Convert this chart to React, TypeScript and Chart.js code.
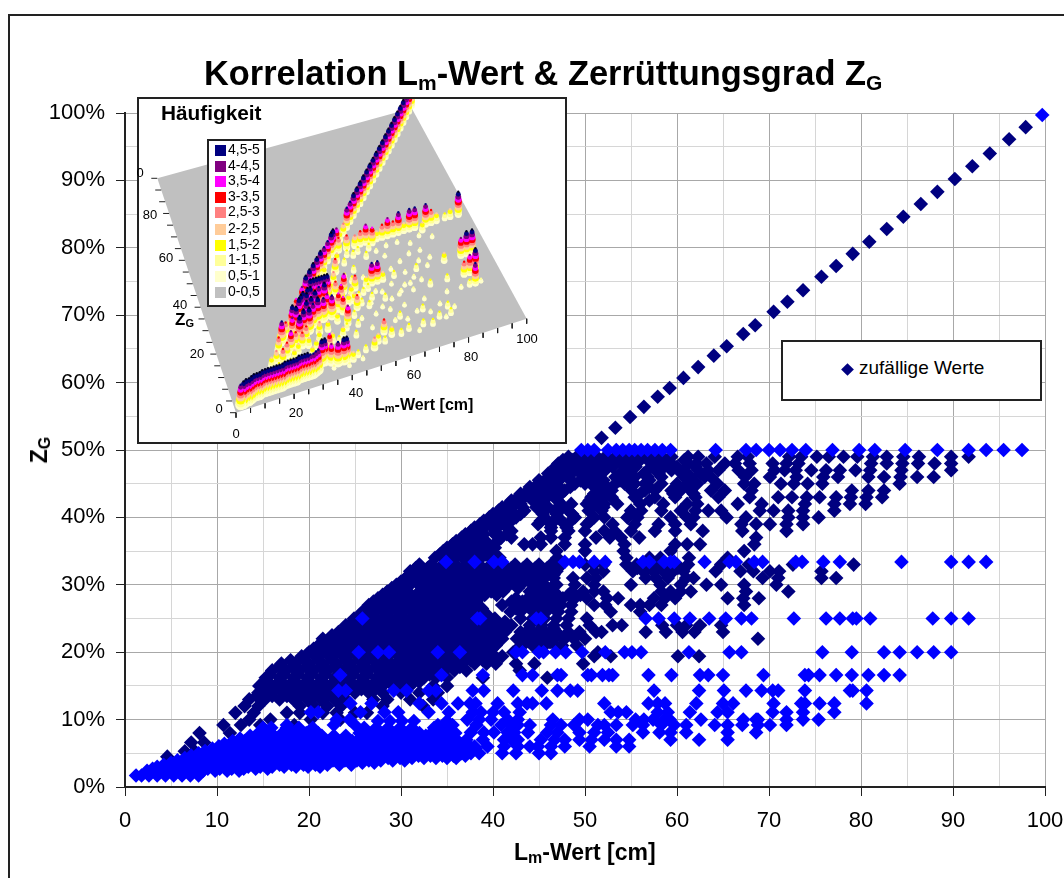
import React, { useEffect, useRef } from "react";
import { Chart, registerables } from "chart.js";

Chart.register(...registerables);

const FONT = '"Liberation Sans", Arial, sans-serif';
const NAVY = "#000080";
const BLUE = "#0000FF";

// Main chart: each row is [Z_G %, L_m values...]
const diagonalValues = [51.8, 53.3, 54.9, 56.4, 57.9, 59.2, 60.7, 62.3, 64, 65.4, 67.2, 68.5, 70.5, 72, 73.7, 75.7, 77.3, 79.1, 80.9, 82.8, 84.6, 86.5, 88.3, 90.2, 92.1, 94, 96.1, 97.9];
const diagonalBlue = [99.7];

const navyUpperRows = [
  [49, 48.2, 49.1, 49.9, 50.6, 51.3, 52.2, 53.3, 54, 54.7, 55.4, 56.5, 57.2, 58.3, 59.4, 61.2, 62.3, 64.1, 66.6, 67.7, 72.2, 73.5, 75.2, 76.5, 78.1, 79.6, 81.3, 82.8, 84.6, 86.3, 89.8, 91.7],
  [48, 47.1, 48.2, 49.3, 50.2, 51.1, 52.2, 53.3, 54, 54.7, 55.4, 57.2, 57.9, 59.4, 61.2, 62.1, 63.2, 65.2, 66.3, 67.9, 70.4, 71.9, 73.2, 81.1, 82.8, 84.5, 86.2, 88, 89.8],
  [47, 46.7, 47.8, 48.9, 50, 51.1, 52.2, 54.3, 55, 56.8, 57.9, 59.4, 60.8, 62.3, 63.4, 64.5, 66.7, 68.1, 70.6, 71.7, 72.9, 74.6, 76.2, 77.7, 79.4, 81, 84.4, 89.8],
  [46, 46, 47.1, 48.2, 50.4, 51.3, 53.3, 54.3, 55.4, 56.8, 58.3, 60.8, 61.5, 63, 63.7, 67.4, 70.1, 73, 75.9, 77.5, 80.8, 82.5, 84.3, 86.1, 87.9],
  [45, 44.9, 45.6, 46.7, 48.9, 50, 51.5, 53.3, 54.3, 55.4, 56.5, 58.3, 60, 61.1, 62.2, 64.4, 67.3, 68.4, 71.3, 72.7, 74.2, 75.8, 84.2],
  [44, 43.8, 44.3, 45.6, 46.7, 47.8, 51.5, 52.9, 55.1, 56.5, 57.6, 59.4, 60.4, 61.5, 63.7, 65.2, 68.1, 79, 80.8, 82.5],
  [43, 42.7, 43.4, 44.6, 45.9, 47, 50.7, 51.8, 52.9, 55.4, 57.6, 59.8, 62, 64.5, 67.9, 71, 72.5, 74.1, 75.5, 77.3, 78.9, 80.6, 82.3],
  [42, 41.7, 42.2, 43, 44.9, 47.4, 48.5, 50.2, 51, 52.1, 53.5, 56, 58.5, 61.1, 62.2, 66.6, 69.2, 73.9, 77.1, 78.8, 80.5],
  [41, 40.6, 41.3, 42, 43.4, 45.2, 46.7, 48.2, 50.4, 51.8, 55, 56.1, 58.3, 60.4, 62, 63.4, 64.8, 69, 70.5, 72.1, 73.7, 77.1],
  [40, 39.6, 40.2, 41.3, 42.5, 45.6, 47.1, 48.9, 51, 52.1, 54.6, 55.7, 59.3, 61.1, 61.8, 65.4, 67.5, 72.1, 73.7, 75.4],
  [39, 38.6, 39.3, 40.8, 44.9, 46.3, 47.8, 50.2, 53, 55.4, 58, 59.8, 61.5, 67, 68.6, 70.1, 71.9, 73.7],
  [38, 37.6, 38.7, 40.2, 42, 46.3, 48.2, 50, 52.1, 53.2, 55, 57.6, 59.8, 62.8, 67.1, 71.9],
  [37, 36.6, 37.3, 38.4, 40.9, 42, 45.2, 46.3, 47.8, 51.2, 52.7, 53.9, 55.9, 68.6],
  [36, 35.6, 36.5, 37.4, 38.4, 39.5, 43.4, 44.3, 45.2, 47.8, 50, 54.3, 59.8, 61.1, 62.5, 68.4],
  [35, 34.6, 35.6, 36.6, 37.6, 38.6, 39.7, 46.9, 50, 54.2, 59.3, 67.3],
  [34, 33.7, 34.7, 35.7, 36.7, 37.7, 38.7, 39.7, 40.7, 47, 54.5, 57, 58.2, 61.3, 65.5],
];

const navyUpperFillRows = [
  [48.5, 47.6, 48.6, 49.6, 50.5, 51.6, 52.7, 53.6, 54.4, 55, 56, 57.5, 58.8, 60.8],
  [47.5, 46.8, 47.9, 49, 50, 51, 52, 53, 54.6, 55.5, 57.3, 58.6, 60, 62],
  [46.5, 46, 47, 48, 49.5, 50.6, 51.7, 53.8, 55, 56.4, 58, 60.5, 62.6],
  [45.5, 45, 46, 47.2, 48.4, 49.5, 50.6, 52, 53.8, 55, 57, 61.3],
  [44.5, 44, 45, 46, 47.2, 48.4, 51, 52.4, 55, 57, 60.2, 61.3],
  [43.5, 43, 44, 45.1, 46.2, 47.4, 51, 52.4, 56, 59.6, 61.8],
  [42.5, 42, 43, 44.3, 45.5, 47, 50.5, 51.5, 57],
  [41.5, 41, 42, 43.2, 44.7, 46, 47.6, 50.7, 52],
  [40.5, 40, 41, 42, 43, 45.4, 46.9, 48.6],
  [39.5, 39, 40, 41, 42, 45.2, 46.6, 48.5, 50.6],
  [38.5, 38, 39, 40, 41.5, 46.3, 48],
  [37.5, 37, 38, 39, 40.2, 41.5],
  [36.5, 36, 37, 38, 39.2, 40.5],
  [35.5, 35, 36, 37, 38, 39, 40.2],
  [34.5, 34.2, 35.2, 36.2, 37.2, 38.2, 39.2, 40.2],
];

const navyMiddleRows = [
  [33, 32, 33.3, 34.6, 35.9, 37.2, 38.5, 39.8, 41.1, 42.4, 43.7, 45, 46.3, 47.4, 50, 51, 52, 54.5, 55.6, 56.7, 57.8, 58.9, 60, 61.2, 64.8, 67.8, 72.6, 79.2],
  [32, 31, 32.6, 33.9, 35.2, 36.5, 37.8, 39.1, 40.4, 41.7, 43, 44.3, 45.6, 46.9, 51, 52, 55.2, 56.3, 57.4, 58.5, 59.6, 60.7, 64.2, 66.9, 68.3, 70.1, 71.1, 75.7],
  [31, 30.5, 32, 33.3, 34.6, 35.9, 37.2, 38.5, 39.8, 41.1, 42.4, 45.6, 46.6, 48.7, 50.2, 51.2, 56.6, 57.7, 59, 61, 61.8, 69.3, 71, 75.7, 77.3],
  [30, 29.5, 31, 32.6, 33.9, 35.2, 36.5, 37.8, 39.1, 40.4, 41.7, 43, 44.3, 45.6, 46.9, 48.9, 51, 55, 58.2, 60.4, 63.2, 64.8, 67.3, 70.8],
  [29, 28.5, 30, 32, 33.3, 34.6, 35.9, 37.2, 38.5, 39.8, 41.1, 44, 45.3, 46.6, 48.6, 49.8, 51, 52, 58.3, 59.3, 60.4, 61.5, 67.5, 72.1],
  [28, 27.5, 29, 30.5, 31.9, 33.2, 34.5, 35.8, 37.1, 38.4, 42.5, 43.8, 45.1, 46.4, 47.6, 48.9, 50.2, 52.4, 53.6, 57.5, 58.7, 59.8, 65.5, 68.9, 67.2],
  [27, 26.5, 28, 29.5, 31, 32.4, 33.7, 35, 36.3, 37.6, 41, 42.3, 43.6, 44.9, 46.2, 47.4, 48.5, 51, 52.2, 55, 56, 57, 58.3, 67.3],
  [26, 25.8, 27.2, 28.7, 30.2, 31.7, 33, 34.3, 35.6, 36.9, 38.2, 41.9, 43, 44.5, 45.8, 47.1, 48.5, 52.8, 56],
  [25, 24.9, 26.5, 28, 29.5, 31, 32.4, 33.7, 35, 36.3, 37.6, 38.9, 40.2, 43, 44.3, 45.6, 46.9, 48.2, 50.2],
  [24, 24, 25.5, 27, 28.5, 30, 31.5, 32.9, 34.2, 35.5, 36.8, 38.1, 39.4, 40.7, 42, 44, 45.3, 46.6, 48, 50.5, 53, 54, 58.4, 60, 61, 62.5, 64.8],
  [23, 23.2, 24.8, 26.3, 27.8, 29.3, 30.8, 32.2, 33.5, 34.8, 36.1, 37.4, 38.7, 40, 41.3, 43, 44.3, 45.6, 46.9, 48.2, 49.4, 51.2, 51.8, 56.6, 58.8, 60.6, 61.9, 65],
  [22, 21.5, 23, 24.5, 26, 27.5, 29, 30.5, 31.9, 33.2, 34.5, 35.8, 37.1, 38.4, 39.7, 41, 42.6, 43.9, 45.2, 46.5, 47.8, 48.8, 50, 68.8],
  [21, 21, 22.5, 24, 25.5, 27, 28.5, 30, 31.3, 32.6, 33.9, 35.2, 36.5, 37.8, 39.1, 40.3, 43, 44.3, 45.6, 46.8, 47.5, 49.1],
  [20, 20, 21.5, 23, 24.5, 26, 27.5, 29, 30.5, 31.9, 33.2, 34.5, 35.8, 37.1, 38.4, 39.5, 42.2, 51.4],
  [19.4, 19.2, 20.7, 22.2, 23.7, 25.2, 26.7, 28.2, 29.7, 31.1, 32.4, 33.7, 35, 36.3, 37.6, 38.9, 40.2, 41, 51, 52.8, 60.1, 62.4],
  [18.3, 17, 18.5, 20, 21.5, 23, 24.5, 26, 27.5, 28.9, 30.2, 31.5, 32.8, 34.1, 35.4, 36.7, 38, 39.3, 40.3, 42.5, 44.5, 49.8],
  [17.3, 16, 17.5, 19, 20.5, 22, 23.5, 25, 26.5, 28, 29.3, 30.6, 31.9, 33.2, 34.5, 35.8, 37.1, 42.9],
  [16.2, 15.3, 16.8, 18.3, 19.8, 21.3, 22.8, 24.3, 25.8, 27.3, 28.6, 29.9, 31.2, 32.5, 33.8, 35, 38.9, 45.9],
  [15, 14.6, 16, 17.5, 19, 20.5, 22, 23.5, 25, 26.5, 28, 29.4, 31, 33.5, 35],
  [14, 14.5, 16, 17.5, 19, 20.5, 22, 23.6, 25, 26.5, 28, 30, 32, 34],
  [13, 13.5, 15.2, 16.8, 18.3, 19.8, 21.3, 22.8, 24, 27, 28.5, 31, 33.5],
  [12, 13, 14.5, 19, 20.5, 22, 23.5, 28, 32.4],
  [11, 12, 14, 17.6, 19, 21.5, 23, 25, 26.3],
  [10, 13.5, 15.8, 20.2, 23.4],
  [9.2, 10.7, 12.6, 14.7, 18.4],
  [8, 8.1, 11.4],
  [6.6, 7.2, 8.6],
  [5.3, 6.5, 7.6],
  [4.5, 4.6],
];

const navyMiddleFillRows = [
  [32.5, 31.6, 32.9, 34.2, 35.5, 36.8, 38.1, 39.4, 40.7, 42, 43.3, 44.6, 45.9, 47.1, 55.7, 56.8, 57.9, 59, 60.1],
  [31.5, 30.9, 32.3, 33.6, 34.9, 36.2, 37.5, 38.8, 40.1, 41.4, 42.7, 44, 45.3, 46.6],
  [30.5, 30, 31.6, 33, 34.3, 35.6, 36.9, 38.2, 39.5, 40.8, 42.1, 43.4, 44.7],
  [29.5, 29, 30.5, 32.3, 33.6, 34.9, 36.2, 37.5, 38.8, 40.1, 41.4, 42.7, 45, 46.3],
  [28.5, 28, 29.6, 31.1, 32.6, 33.9, 35.2, 36.5, 37.8, 39.1, 40.4, 44.4, 45.7, 47, 48.2, 49.5],
  [27.5, 27, 28.6, 30.2, 31.7, 33, 34.3, 35.6, 36.9, 38.2, 42, 43.2, 44.5, 45.8, 47],
  [26.5, 26.3, 27.8, 29.3, 30.8, 32.3, 33.6, 34.9, 36.2, 37.5, 38.8, 42.5, 44, 45.3, 46.6],
  [25.5, 25.5, 27, 28.5, 30, 31.5, 32.9, 34.2, 35.5, 36.8, 38.1, 39.4],
  [24.5, 24.7, 26.2, 27.7, 29.2, 30.7, 32.2, 33.5, 34.8, 36.1, 37.4, 38.7, 40, 41.3],
  [23.5, 24, 25.5, 27, 28.5, 30, 31.5, 32.9, 34.2, 35.5, 36.8, 38.1, 39.4, 40.7, 44, 45.3, 46.6],
  [22.5, 22.5, 24, 25.5, 27, 28.5, 30, 31.3, 32.6, 33.9, 35.2, 36.5, 37.8, 39.1, 40.4, 43.3, 44.6, 45.9, 47.2],
  [21.5, 21.8, 23.3, 24.8, 26.3, 27.8, 29.3, 30.8, 32.2, 33.5, 34.8, 36.1, 37.4, 38.7, 40, 43.6, 45, 46.2],
  [20.5, 20.5, 22, 23.5, 25, 26.5, 28, 29.5, 30.9, 32.2, 33.5, 34.8, 36.1, 37.4, 38.7, 39.9],
  [19.7, 19.8, 21.3, 22.8, 24.3, 25.8, 27.3, 28.8, 30.2, 31.6, 32.9, 34.2, 35.5, 36.8, 38.1, 39.5],
  [18.8, 18, 19.5, 21, 22.5, 24, 25.5, 27, 28.5, 29.8, 31.1, 32.4, 33.7, 35, 36.3, 37.6, 38.9, 40],
  [17.8, 16.7, 18.2, 19.7, 21.2, 22.7, 24.2, 25.7, 27.2, 28.6, 29.9, 31.2, 32.5, 33.8, 35.1, 36.4],
  [16.7, 15.8, 17.3, 18.8, 20.3, 21.8, 23.3, 24.8, 26.3, 27.8, 29.2, 30.5, 31.8, 33.1, 34.4],
  [15.6, 15.2, 16.7, 18.2, 19.7, 21.2, 22.7, 24.2, 25.7, 27.2, 28.7, 30.2, 32],
  [14.5, 15.3, 16.8, 18.3, 19.8, 21.3, 22.8, 24.3, 25.7, 27.2],
  [13.5, 14.3, 16, 17.6, 19, 20.5, 22, 23.4],
];

const blueSparseRows = [
  [50, 49.6, 50.3, 51, 52.5, 53.4, 54.1, 54.8, 55.4, 56.1, 56.8, 57.6, 58.4, 59.3, 64.2, 67.5, 68.6, 70, 71.2, 72.5, 74, 76.9, 79.8, 81.5, 84.8, 88.3, 91.7, 93.6, 95.5, 97.5],
  [33.4, 34.9, 38, 40.1, 41, 47.8, 48.7, 49.4, 51, 52.2, 56.3, 57, 58.6, 59.3, 59.7, 63, 65.7, 66.4, 68.4, 69.3, 72.9, 73.6, 75.9, 77.7, 84.4, 89.8, 91.7, 93.6],
  [25, 25.8, 38.3, 38.6, 44.7, 45.2, 56.6, 58, 59.7, 61.4, 63.5, 65.3, 67, 68.1, 72.7, 76.2, 77.7, 79.1, 79.5, 81, 87.8, 89.8, 91.7],
  [20, 25.4, 27.5, 28.7, 34, 36.4, 42.5, 43.2, 45, 45.5, 46.8, 47.9, 49.7, 52.2, 54.3, 55.1, 56.1, 61.3, 65.7, 67, 75.8, 79, 82.5, 84.2, 86.1, 87.9, 89.8],
  [16.6, 23.4, 34.4, 38.9, 43.2, 44.3, 47, 47.4, 50.3, 50.7, 51.9, 52.6, 53, 56.9, 59.4, 62.5, 63.4, 65, 69.4, 73.9, 74.3, 75.5, 77.3, 79, 80.8, 82.5, 84.2],
  [14.3, 23.2, 24, 29.2, 30.6, 33, 33.8, 37.8, 39, 42.2, 45.3, 47, 48.4, 49.2, 57.5, 62.4, 65.1, 67.5, 69.2, 70.4, 71, 73.9, 78.8, 79.1, 80.6],
  [12.4, 24.5, 26.8, 32, 34.4, 36.2, 37.5, 38.1, 40.5, 42.7, 43.7, 44.3, 45.8, 52.1, 56.9, 57.9, 58.7, 62.1, 65, 66.1, 70.5, 73.5, 73.9, 75.5, 77.1, 80.6],
  [11.1, 20.2, 21, 25.6, 28.2, 29.7, 33, 35.2, 37.8, 38.7, 40, 41.2, 42.9, 52.8, 53.6, 54.5, 57.9, 59, 61.4, 64.4, 65.5, 70.4, 71.9, 73.7, 77.1],
  [10, 23, 24.4, 37.2, 38.5, 39.8, 41.6, 42.7, 46.5, 49.4, 50.3, 55.5, 56.4, 57.4, 58.6, 59.2, 62.6, 67.2, 68.6, 68.8, 71.9, 73.7, 75.4],
  [9.2, 17.6, 22.7, 25, 34, 35.6, 38.2, 40.9, 42, 42.7, 44, 46.3, 47.4, 48.8, 51.4, 52.1, 53.4, 55.2, 56.3, 58.3, 59.7, 61, 64.1, 65.5, 67.1, 68.8, 70.1, 71.9],
  [8.1, 37.6, 39, 40.1, 41.6, 42.3, 43.8, 45.9, 47, 49.4, 51, 52.5, 56.3, 58.1, 59.3, 61, 65.5, 68.6],
  [7, 37.1, 38.9, 41.2, 42, 42.7, 45.2, 46.7, 47.8, 49.4, 50.7, 52.1, 53.4, 54.8, 59.3, 62.4, 65.5],
  [6, 38, 39.4, 41.2, 42.7, 44, 44.9, 46.3, 47.8, 50.5, 53.4, 54.8],
  [5, 37.6, 41, 42.5, 45, 46.3],
];

const blueDenseRows = [
  [1.7, 1.2, 1.8, 2.6, 3.5, 4.4, 5.3, 6.2, 7.1, 8],
  [2.4, 2.4, 3.5, 4.6, 5.9, 7.2, 8.5, 9.8, 11.1, 12.4],
  [2.7, 3, 4.1, 5.2, 6.4, 7.7, 9, 10.3, 11.6, 12.9, 14.2, 15.5],
  [3, 3.5, 4.6, 5.6, 6.9, 8.2, 9.5, 10.8, 12.1, 13.4, 14.7, 16, 17.3, 18.6, 19.9, 21.2],
  [3.3, 4.2, 5.3, 6.4, 7.7, 9, 10.3, 11.6, 12.9, 14.2, 15.5, 16.8, 18.1, 19.4, 20.7, 22, 23.3, 24.6],
  [3.6, 5, 6.3, 7.6, 8.9, 10.2, 11.5, 12.8, 14.1, 15.4, 16.7, 18, 19.3, 20.6, 21.9, 23.2, 24.5, 25.8, 27.1],
  [3.95, 5.7, 7, 8.3, 9.6, 10.9, 12.2, 13.5, 14.8, 16.1, 17.4, 18.7, 20, 21.3, 22.6, 23.9, 25.2, 26.5, 27.8, 29.1, 30.4],
  [4.3, 6.5, 7.8, 9.1, 10.4, 11.7, 13, 14.3, 15.6, 16.9, 18.2, 19.5, 20.8, 22.1, 23.4, 24.7, 26, 27.3, 28.6, 29.9, 31.2, 32.5, 33.8, 35, 36],
  [4.65, 7.2, 8.5, 9.8, 11.1, 12.4, 13.7, 15, 16.3, 17.6, 18.9, 20.2, 21.5, 22.8, 24.1, 25.4, 26.7, 28, 29.3, 30.6, 31.9, 33.2, 34.5, 35.7, 37],
  [5, 8, 9.3, 10.6, 11.9, 13.2, 14.5, 15.8, 17.1, 18.4, 19.7, 21, 22.3, 23.6, 24.9, 26.2, 27.5, 28.8, 30.1, 31.4, 32.7, 34, 35.3, 36.6, 38.5],
  [5.35, 8.7, 10, 11.3, 12.6, 13.9, 15.2, 16.5, 17.8, 19.1, 20.4, 21.7, 23, 24.3, 25.6, 26.9, 28.2, 29.5, 30.8, 32.1, 33.4, 34.7, 36, 37.3],
  [5.7, 9.5, 10.8, 12.1, 13.4, 14.7, 16, 17.3, 18.6, 19.9, 21.2, 22.5, 23.8, 25.1, 26.4, 27.7, 29, 30.3, 31.6, 32.9, 34.2, 35.5, 36.8, 38.1],
  [6.05, 10.2, 11.5, 12.8, 14.1, 15.4, 16.7, 18, 19.3, 20.6, 21.9, 23.2, 24.5, 25.8, 27.1, 28.4, 29.7, 31, 32.3, 33.6, 34.9, 36.2, 37.5],
  [6.4, 10.8, 12.1, 13.4, 14.7, 16, 17.3, 18.6, 19.9, 21.2, 22.5, 23.8, 25.1, 26.4, 27.7, 29, 30.3, 31.6, 32.9, 34.2, 35.5, 36.5],
  [6.8, 11.7, 13, 14.3, 15.6, 16.9, 18.2, 19.5, 20.8, 22.1, 23.4, 24.7, 26, 27.3, 28.6, 29.9, 31.2, 32.5, 33.8, 35.1],
  [7.2, 12.5, 13.8, 15.1, 16.4, 17.7, 19, 20.3, 21.6, 22.9, 24.2, 25.5, 26.8, 28.1, 29.4, 30.7, 32, 33.3, 34.6, 35.9],
  [7.6, 13.6, 14.9, 16.2, 17.5, 18.8, 20.1, 21.4, 22.7, 24, 26.2, 27.5, 28.8, 30.1, 31.4, 32.7, 34, 35.3],
  [8, 14.5, 15.8, 17.1, 18.4, 19.7, 21, 25.5, 26.8, 28.1, 29.4, 30.7, 32, 33.3, 34.6, 35.9],
  [8.8, 15, 15.9, 17.6, 18.9, 20.4, 26, 27.3, 28.6, 29.9, 31.2, 33.6, 34.9],
  [9.8, 27.5, 28.8, 30.1, 31.4, 35],
];

// Inset surface: each peak is [L_m, Z_G, frequency]
const insetBandPeaks = [
  [2, 1.5, 4.5], [3, 1.5, 5], [4, 2, 5], [5, 2, 5], [6, 2.5, 5], [7, 3, 5], [8, 3, 5], [9, 3, 5], [10, 3.5, 5], [11, 3.5, 5],
  [12, 3.5, 5], [13, 3.5, 5], [14, 3.5, 5], [15, 3.5, 5], [16, 3.5, 5], [17, 3.5, 5], [18, 4, 5], [19, 4, 5], [20, 4, 5], [21, 4, 5],
  [22, 4, 5], [23, 4.5, 5], [24, 4.5, 5], [25, 4.5, 5], [26, 4.5, 5], [27, 4.5, 4.5], [28, 4.5, 4.5], [29, 5, 4.5], [30, 5.5, 4.5],
  [32, 8, 5], [33, 8, 5], [35, 7, 4], [37, 6, 4.5], [39, 6, 5], [40, 6, 5], [42, 5, 2], [44, 6, 1.5], [47, 7, 1.5], [50, 7, 2.5],
  [32, 14, 2], [36, 12, 3.5], [30, 12, 2], [25, 10, 1.5], [20, 8, 1.5], [15, 7, 1], [10, 6, 1], [35, 4, 1], [40, 3, 1], [45, 4, 1],
  [52, 9, 2], [54, 8, 1.5], [57, 10, 2], [60, 9, 1.5], [63, 10, 1.5], [66, 8, 1], [68, 10, 1.5], [71, 9, 1.5], [74, 11, 1.5], [76, 10, 1],
  [78, 11, 1.5], [80, 13, 1],
];
const insetWedgePeaks = [
  [16, 13, 2], [18, 14, 2.5], [20, 13, 3], [20, 18, 3], [22, 21, 4.5], [22, 15, 3], [24, 23, 3], [24, 17, 4], [26, 22, 4], [26, 18, 3],
  [27, 25, 5], [28, 24, 5], [28, 20, 5], [28, 17, 3], [30, 27, 5], [30, 22, 5], [31, 28, 5], [32, 29, 5], [32, 25, 5], [32, 22, 5],
  [33, 28, 5], [34, 30, 5], [34, 26, 5], [34, 24, 4.5], [35, 30, 5], [36, 33, 5], [36, 28, 5], [36, 25, 5], [37, 33, 5], [38, 33, 5],
  [38, 30, 4.5], [38, 25, 4.5], [39, 33, 5], [40, 33, 5], [40, 30, 5], [40, 27, 4], [41, 33, 5], [41, 25, 4.5], [42, 33, 5], [44, 27, 3.5],
  [46, 30, 3.5], [30, 16, 2], [35, 20, 2.5], [38, 20, 2], [42, 22, 2], [44, 18, 1.5], [48, 22, 1.5], [50, 28, 2], [52, 26, 1.5], [46, 14, 1.5],
  [40, 14, 1.5], [35, 14, 1.5], [48, 18, 1.5], [54, 30, 1.5], [56, 27, 1.5], [50, 20, 1], [55, 20, 1], [58, 22, 1], [60, 28, 1], [62, 24, 1],
  [52, 15, 1], [56, 14, 1], [60, 15, 1], [65, 20, 1], [68, 28, 1], [72, 30, 1], [62, 40, 1], [66, 42, 1], [70, 38, 1], [74, 40, 1],
  [52, 44, 1.5], [56, 46, 1.5], [60, 44, 1.5], [64, 45, 1], [68, 46, 1], [72, 46, 1], [76, 44, 1], [80, 46, 1], [50, 38, 1.5], [54, 40, 1.5],
  [46, 38, 2.5], [48, 42, 3], [42, 39, 1.5], [44, 35, 2], [52, 36, 1.5], [56, 36, 1], [60, 38, 1], [66, 36, 1], [78, 40, 1], [84, 44, 1],
  [44, 42, 2], [50, 46, 2], [54, 47, 1.5], [58, 47, 1.5], [62, 47, 1.5], [46, 24, 2], [48, 28, 2], [50, 31, 2], [52, 29, 1.5], [54, 24, 1.5],
  [56, 31, 1.5], [58, 29, 1], [42, 16, 2], [38, 15, 2], [34, 17, 2], [30, 19, 3], [26, 15, 2], [24, 13, 2], [22, 11, 1.5], [18, 11, 1.5],
  [64, 30, 1], [66, 26, 1], [70, 28, 1], [74, 28, 1], [76, 36, 1], [80, 36, 1], [64, 14, 1], [68, 16, 1], [72, 14, 1], [76, 16, 1],
];
const insetDiagonalPeaks = [
  [30, 30, 3.5], [33, 33, 4], [35, 35, 5], [37, 37, 5], [39, 39, 5], [41, 41, 5], [43, 43, 5], [45, 45, 4.5], [47, 47, 4.5], [49, 49, 5],
  [50, 50, 5], [52, 52, 4], [54, 54, 2], [56, 56, 2.5], [58, 58, 4.5], [60, 60, 4.5], [62, 62, 5], [64, 64, 5], [66, 66, 5], [68, 68, 5],
  [70, 70, 5], [72, 72, 5], [74, 74, 5], [76, 76, 5], [78, 78, 5], [80, 80, 5], [82, 82, 5], [84, 84, 5], [86, 86, 5], [88, 88, 5],
  [90, 90, 5], [92, 92, 5], [94, 94, 5], [96, 96, 5], [98, 98, 5], [100, 100, 5],
];
const insetRowPeaks = [
  [52, 50, 3], [55, 50, 3], [58, 50, 2.5], [60, 50, 3], [62, 50, 4], [64, 49, 3.5], [66, 50, 2], [68, 50, 3], [70, 50, 4], [72, 50, 3],
  [74, 50, 4.5], [76, 50, 2], [78, 50, 4.5], [80, 50, 4.5], [82, 48, 2], [84, 50, 4.5], [86, 50, 3], [88, 50, 2], [91, 50, 1.5], [93, 50, 2], [96, 50, 5],
  [45, 33, 3], [48, 33, 4], [52, 33, 3], [56, 33, 2], [58, 33, 4.5], [60, 33, 4.5], [62, 33, 2], [66, 33, 1.5], [70, 33, 1], [74, 33, 1.5], [78, 33, 1],
  [84, 33, 2], [90, 33, 4], [92, 33, 5], [94, 33, 5],
  [45, 25, 3.5], [50, 25, 3], [55, 25, 1], [60, 25, 1.5], [65, 25, 1], [70, 25, 1], [76, 25, 1.5], [82, 25, 1.5], [88, 25, 3], [90, 25, 4], [92, 25, 5],
  [45, 20, 4], [60, 20, 1], [72, 20, 1], [80, 20, 1], [85, 20, 1], [88, 20, 1.5], [90, 20, 4.5], [92, 20, 1],
  [55, 12, 3], [62, 16, 1.5], [70, 16, 1.5], [78, 14, 1.5],
];
const insetTickValues = [0, 5, 10, 15, 20, 25, 30, 35, 40, 45, 50, 55, 60, 65, 70, 75, 80, 85, 90, 95, 100];

const insetLegendLabels = ["4,5-5", "4-4,5", "3,5-4", "3-3,5", "2,5-3", "2-2,5", "1,5-2", "1-1,5", "0,5-1", "0-0,5"];
const insetLegendColors = ["#000080", "#800080", "#FF00FF", "#FF0000", "#FF8080", "#FFCC99", "#FFFF00", "#FFFF99", "#FFFFCC", "#C0C0C0"];
const insetLegendTops = [149, 165, 180, 196, 211, 228, 244, 259, 275, 291];

const insetLTicks = [["0", 236, 434], ["20", 296, 413], ["40", 356, 393], ["60", 414, 375], ["80", 471, 357], ["100", 527, 339]];
const insetZTicks = [["0", 219, 409], ["20", 197, 354], ["40", 180, 305], ["60", 166, 258], ["80", 150, 215], ["0", 140, 173]];

const toPoints = (rows: number[][]) =>
  rows.flatMap(([y, ...xs]) => xs.map((x) => ({ x, y })));

// Corners of the inset's tilted plane inside the inset canvas.
const PLANE = { a: [99, 315.7], b: [389.7, 221.7], c: [20.3, 81.3], d: [274.7, 11.3] };
const HEIGHT_UNIT = 5;

function project(L: number, Z: number, h = 0) {
  const u = L / 100;
  const v = Z / 100;
  const bx = PLANE.a[0] + (PLANE.b[0] - PLANE.a[0]) * u;
  const by = PLANE.a[1] + (PLANE.b[1] - PLANE.a[1]) * u;
  const tx = PLANE.c[0] + (PLANE.d[0] - PLANE.c[0]) * u;
  const ty = PLANE.c[1] + (PLANE.d[1] - PLANE.c[1]) * u;
  return { x: bx + (tx - bx) * v, y: by + (ty - by) * v - h * HEIGHT_UNIT };
}

function surfaceColumns() {
  const colors = [...insetLegendColors].reverse();
  const tag = (list: number[][], maxR: number) => list.map((p) => ({ p, maxR, depth: project(p[0], p[1]).y }));
  const ordered = [
    ...tag(insetBandPeaks, 5.5),
    ...tag(insetWedgePeaks, 5),
    ...tag(insetDiagonalPeaks, 3.2),
    ...tag(insetRowPeaks, 3.6),
  ].sort((m, n) => m.depth - n.depth);
  const points: { x: number; y: number }[] = [];
  const pointColors: string[] = [];
  const radii: number[] = [];
  ordered.forEach(({ p, maxR }) => {
    const [L, Z, h] = p;
    for (let level = 0; level < h * 2; level++) {
      const f = (level + 1) / 2;
      points.push(project(L, Z, f));
      pointColors.push(f >= 5 ? "#000020" : colors[Math.min(level + 1, 9)]);
      radii.push(f === h ? 1.2 : Math.min(maxR, 2 + (h - f) * 0.9));
    }
  });
  return { points, pointColors, radii };
}

function segments(list: { x: number; y: number }[][]) {
  return list.flatMap((pair) => [...pair, { x: NaN, y: NaN }]);
}

const abs = (left: number, top: number, extra: React.CSSProperties = {}): React.CSSProperties => ({
  position: "absolute",
  left,
  top,
  fontFamily: FONT,
  color: "#000",
  whiteSpace: "nowrap",
  ...extra,
});

export default function App() {
  const mainRef = useRef<HTMLCanvasElement>(null);
  const insetRef = useRef<HTMLCanvasElement>(null);

  useEffect(() => {
    const major = (v: number) => Math.abs(v % 10) < 1e-6;
    const gridColor = (ctx: any) => (major(ctx.tick.value) ? "#A8A8A8" : "#D6D6D6");
    const tickColor = (ctx: any) => (major(ctx.tick.value) ? "#222222" : "rgba(0,0,0,0)");
    const main = new Chart(mainRef.current!, {
      type: "scatter",
      data: {
        datasets: [
          { label: "blau", data: [...toPoints(blueSparseRows), ...toPoints(blueDenseRows), ...diagonalBlue.map((v) => ({ x: v, y: v }))], backgroundColor: BLUE, pointStyle: "rectRot", pointRadius: 7.3, borderWidth: 0, clip: false },
          { label: "zufällige Werte", data: [...toPoints(navyMiddleFillRows), ...toPoints(navyMiddleRows), ...toPoints(navyUpperFillRows), ...toPoints(navyUpperRows), ...diagonalValues.map((v) => ({ x: v, y: v }))], backgroundColor: NAVY, pointStyle: "rectRot", pointRadius: 7.3, borderWidth: 0, clip: false },
        ],
      },
      options: {
        responsive: false,
        animation: false,
        devicePixelRatio: 1,
        layout: { autoPadding: false, padding: { left: 0, right: 19, top: 113, bottom: 0 } },
        plugins: { legend: { display: false }, tooltip: { enabled: false } },
        scales: {
          x: {
            type: "linear",
            min: 0,
            max: 100,
            afterFit: (a: any) => { a.height = 91; a.paddingRight = 0; a.paddingLeft = 0; },
            border: { color: "#222222", width: 2 },
            grid: { color: gridColor, tickColor, tickLength: 9, lineWidth: 1 },
            ticks: {
              stepSize: 5,
              autoSkip: false,
              maxRotation: 0,
              padding: 12,
              color: "#000",
              font: { family: FONT, size: 22 },
              callback: (v: any) => (major(v) ? String(v) : ""),
            },
          },
          y: {
            type: "linear",
            min: 0,
            max: 100,
            afterFit: (a: any) => { a.width = 125; a.paddingTop = 0; a.paddingBottom = 0; },
            border: { color: "#222222", width: 2 },
            grid: { color: gridColor, tickColor, tickLength: 9, lineWidth: 1 },
            ticks: {
              stepSize: 5,
              autoSkip: false,
              padding: 11,
              color: "#000",
              font: { family: FONT, size: 22 },
              callback: (v: any) => (major(v) ? v + "%" : ""),
            },
          },
        },
      },
    } as any);

    const { points, pointColors, radii } = surfaceColumns();
    const edgeUpper = [project(0, 100), project(100, 100), project(100, 0)];
    const edgeLower = [project(0, 100), project(0, 0), project(100, 0)];
    const lTicks = insetTickValues.map((t) => {
      const p = project(t, 0);
      return [p, { x: p.x, y: p.y + 5 }];
    });
    const zTicks = insetTickValues.map((t) => {
      const p = project(0, t);
      return [p, { x: p.x - 6, y: p.y }];
    });
    const inset = new Chart(insetRef.current!, {
      type: "scatter",
      data: {
        datasets: [
          { type: "scatter", data: points, pointStyle: "circle", pointBackgroundColor: pointColors, pointRadius: radii, pointBorderWidth: 0, order: 1 },
          { type: "line", data: segments([...lTicks, ...zTicks]), borderColor: "#222222", borderWidth: 1, pointRadius: 0, spanGaps: false, order: 2 },
          { type: "line", data: edgeUpper, borderColor: "#C0C0C0", borderWidth: 0, pointRadius: 0, tension: 0, order: 3 },
          { type: "line", data: edgeLower, borderColor: "#C0C0C0", borderWidth: 0, pointRadius: 0, tension: 0, fill: "-1", backgroundColor: "#C0C0C0", order: 3 },
        ],
      },
      options: {
        responsive: false,
        animation: false,
        devicePixelRatio: 1,
        layout: { autoPadding: false, padding: 0 },
        plugins: { legend: { display: false }, tooltip: { enabled: false } },
        scales: {
          x: { type: "linear", display: false, min: 0, max: 430 },
          y: { type: "linear", display: false, min: 0, max: 346, reverse: true },
        },
      },
    } as any);

    return () => {
      main.destroy();
      inset.destroy();
    };
  }, []);

  return (
    <div style={{ position: "absolute", left: 0, top: 0, width: 1064, height: 878, overflow: "hidden", background: "#fff" }}>
      <div style={{ position: "absolute", left: 8, top: 14, width: 1100, height: 900, border: "2px solid #222" }} />
      <canvas ref={mainRef} width={1064} height={878} style={{ position: "absolute", left: 0, top: 0 }} />

      <div style={abs(204, 52, { fontSize: 34.4, fontWeight: 700, lineHeight: "42px" })}>
        Korrelation L<sub style={{ fontSize: 21, verticalAlign: "-5px", lineHeight: 0 }}>m</sub>-Wert &amp; Zerrüttungsgrad Z<sub style={{ fontSize: 21, verticalAlign: "-5px", lineHeight: 0 }}>G</sub>
      </div>
      <div style={abs(514, 840, { fontSize: 23, fontWeight: 700, lineHeight: "24px" })}>
        L<sub style={{ fontSize: 16, verticalAlign: "-3px", lineHeight: 0 }}>m</sub>-Wert [cm]
      </div>
      <div style={abs(39, 450, { fontSize: 23, fontWeight: 700, lineHeight: "24px", transform: "translate(-50%,-50%) rotate(-90deg)" })}>
        Z<sub style={{ fontSize: 16, verticalAlign: "-3px", lineHeight: 0 }}>G</sub>
      </div>

      <div style={{ position: "absolute", left: 781, top: 340, width: 257, height: 57, border: "2px solid #222", background: "#fff" }} />
      <div style={{ position: "absolute", left: 843, top: 365, width: 9, height: 9, background: NAVY, transform: "rotate(45deg)" }} />
      <div style={abs(859, 357, { fontSize: 19, lineHeight: "22px" })}>zufällige Werte</div>

      <canvas ref={insetRef} width={430} height={346} style={{ position: "absolute", left: 137, top: 97, background: "#fff" }} />
      <div style={{ position: "absolute", left: 137, top: 97, width: 426, height: 343, border: "2px solid #222" }} />
      <div style={abs(161, 101, { fontSize: 20.8, fontWeight: 700, lineHeight: "24px" })}>Häufigkeit</div>
      <div style={{ position: "absolute", left: 207, top: 139, width: 55, height: 164, border: "2px solid #222", background: "#fff" }} />
      {insetLegendLabels.map((label, i) => (
        <React.Fragment key={label}>
          <div style={{ position: "absolute", left: 215, top: insetLegendTops[i] - 4, width: 11, height: 11, background: insetLegendColors[i] }} />
          <div style={abs(228, insetLegendTops[i] - 8, { fontSize: 14, lineHeight: "16px" })}>{label}</div>
        </React.Fragment>
      ))}
      {[...insetLTicks, ...insetZTicks].map(([label, x, y], i) => (
        <div key={i} style={abs(x as number, y as number, { fontSize: 13, lineHeight: "14px", transform: "translate(-50%,-50%)" })}>{label}</div>
      ))}
      <div style={abs(175, 310, { fontSize: 17, fontWeight: 700, lineHeight: "20px" })}>
        Z<sub style={{ fontSize: 11, verticalAlign: "-2px", lineHeight: 0 }}>G</sub>
      </div>
      <div style={abs(375, 396, { fontSize: 16, fontWeight: 700, lineHeight: "18px" })}>
        L<sub style={{ fontSize: 11, verticalAlign: "-2px", lineHeight: 0 }}>m</sub>-Wert [cm]
      </div>
    </div>
  );
}
